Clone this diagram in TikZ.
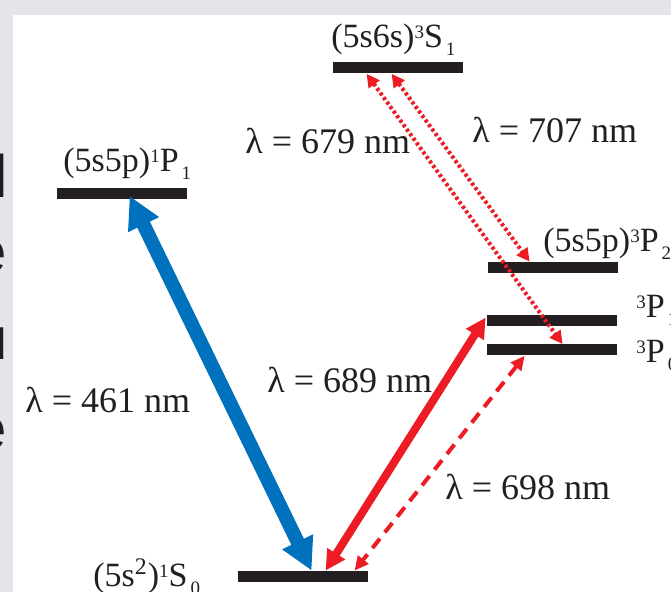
\documentclass[tikz,border=0pt]{standalone}
\usepackage{fontspec}
\setmainfont{Liberation Serif}
\newfontfamily\slidefont{Liberation Sans}
\newfontfamily\labelfont{Liberation Serif}
\usetikzlibrary{arrows.meta, calc}
\definecolor{LevelBlack}{HTML}{231F20}
\definecolor{LaserBlue}{HTML}{0071BC}
\definecolor{LaserRed}{HTML}{ED1C24}
\definecolor{SlideGray}{HTML}{E6E4EB}
\definecolor{SlideText}{HTML}{1E1E1E}
% small raised and lowered numbers of the term symbols
\newcommand{\supnum}[1]{\raisebox{4.8pt}{\fontsize{9.5}{10}\selectfont #1}}
\newcommand{\subnum}[1]{\kern1.5pt\raisebox{-3.6pt}{\fontsize{9.5}{10}\selectfont #1}}
\tikzset{
    % Level styles - flat black bars
    level/.style={
        rectangle,
        draw=none,
        fill=LevelBlack,
        minimum width=65pt,
        minimum height=5.5pt,
        inner sep=0pt
    },
    % Text styles
    statelabel/.style={
        text=LevelBlack,
        inner sep=0pt,
        anchor=base west,
        font=\labelfont\fontsize{17}{20}\selectfont
    },
    wavelabel/.style={
        text=LevelBlack,
        inner sep=0pt,
        anchor=base west,
        font=\labelfont\fontsize{18}{21}\selectfont
    },
    slideletter/.style={
        text=SlideText,
        inner sep=0pt,
        anchor=base east,
        font=\slidefont\fontsize{30}{36}\selectfont
    },
    % Arrow styles - straight lines, heads at both ends
    bluearrow/.style={
        {Triangle[length=16pt,width=16pt]}-{Triangle[length=16pt,width=16pt]},
        line width=7pt,
        draw=LaserBlue
    },
    redarrow/.style={
        {Triangle[length=10pt,width=10pt]}-{Triangle[length=10pt,width=10pt]},
        line width=4pt,
        draw=LaserRed
    },
    dashedarrow/.style={
        {Triangle[length=7pt,width=6.5pt]}-{Triangle[length=7pt,width=6.5pt]},
        line width=2pt,
        draw=LaserRed,
        dash pattern=on 6pt off 4pt
    },
    dottedarrow/.style={
        {Triangle[length=6.5pt,width=6.5pt]}-{Triangle[length=6.5pt,width=6.5pt]},
        line width=2pt,
        draw=LaserRed,
        dash pattern=on 1.5pt off 1.3pt
    }
}

\begin{document}
\begin{tikzpicture}[x=0.5pt, y=-0.5pt]
    \useasboundingbox (0,0) rectangle (671,592);
    \clip (0,0) rectangle (671,592);

    % slide behind the figure
    \fill[SlideGray] (0,0) rectangle (671,592);
    \fill[white] (13,15) rectangle (671,592);
    \node[slideletter] (frag1) at (8,198) {l};
    \node[slideletter] (frag2) at (7,273) {e};
    \node[slideletter] (frag3) at (8,360) {u};
    \node[slideletter] (frag4) at (7,450) {e};

    % energy levels
    \node[level] (s1) at (398,68) {};
    \node[level] (p1) at (122,194) {};
    \node[level] (p32) at (553,267.5) {};
    \node[level] (p31) at (552,320.5) {};
    \node[level] (p30) at (552,350) {};
    \node[level] (s0) at (303,576.5) {};

    \node[statelabel] (s1lab) at (331,48) {(5s6s)\supnum{3}S\subnum{1}};
    \node[statelabel] (p1lab) at (63,172) {(5s5p)\supnum{1}P\subnum{1}};
    \node[statelabel] (p32lab) at (543,252) {(5s5p)\supnum{3}P\subnum{2}};
    \node[statelabel] (p31lab) at (636,318) {\supnum{3}P\subnum{1}};
    \node[statelabel] (p30lab) at (636,363) {\supnum{3}P\subnum{0}};
    \node[statelabel] (s0lab) at (93,587) {(5s\textsuperscript{2})\supnum{1}S\subnum{0}};

    % arrow ends on the bars
    \coordinate (blueTop) at ($(p1.south west)+(73,-4)$);
    \coordinate (blueLow) at ($(s0.north west)+(74,0)$);
    \coordinate (redTop) at ($(p31.north west)+(-1,3)$);
    \coordinate (redLow) at ($(s0.north west)+(88,0)$);
    \coordinate (dashTop) at ($(p30.south west)+(38,0)$);
    \coordinate (dashLow) at ($(s0.north west)+(117,0)$);
    \coordinate (dotTopA) at ($(s1.south west)+(34,0)$);
    \coordinate (dotLowA) at ($(p30.north west)+(76,0)$);
    \coordinate (dotTopB) at ($(s1.south west)+(59,0)$);
    \coordinate (dotLowB) at ($(p32.north west)+(42,0)$);

    \draw[bluearrow] (blueTop) -- (blueLow);
    \draw[redarrow] (redTop) -- (redLow);
    \draw[dashedarrow] (dashTop) -- (dashLow);
    \draw[dottedarrow] (dotTopA) -- (dotLowA);
    \draw[dottedarrow] (dotTopB) -- (dotLowB);

    \node[wavelabel] (l461) at (25,413) {λ = 461 nm};
    \node[wavelabel] (l679) at (245,154) {λ = 679 nm};
    \node[wavelabel] (l707) at (472,143) {λ = 707 nm};
    \node[wavelabel] (l689) at (267,393) {λ = 689 nm};
    \node[wavelabel] (l698) at (445,500) {λ = 698 nm};
\end{tikzpicture}
\end{document}
